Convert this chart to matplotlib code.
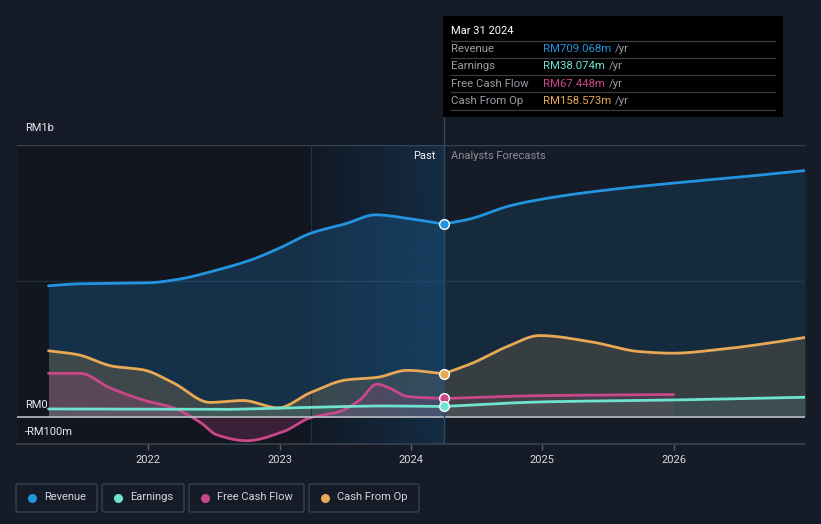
import numpy as np
import matplotlib
matplotlib.use("Agg")
import matplotlib.pyplot as plt
from matplotlib.patches import FancyBboxPatch, Rectangle
from matplotlib.colors import to_rgb

plt.rcParams['font.family'] = ['Roboto', 'DejaVu Sans']

# ---------------- data (RM millions) ----------------
rev_past_x = [2021.24, 2021.46, 2022.0, 2022.24, 2022.5, 2022.78, 2023.0, 2023.24, 2023.5, 2023.73, 2024.0, 2024.25]
rev_past_y = [482, 489, 493, 507, 537, 577, 621, 676, 710, 743, 728, 709.068]
rev_fc_x = [2024.25, 2024.45, 2024.75, 2025.0, 2025.43, 2026.0, 2026.5, 2027.0]
rev_fc_y = [709.068, 728, 776, 801, 831, 860, 882, 906]

earn_past_x = [2021.24, 2022.0, 2022.5, 2023.0, 2023.5, 2023.75, 2024.25]
earn_past_y = [29, 28, 27, 32, 38, 40, 38.074]
earn_fc_x = [2024.25, 2025.0, 2026.0, 2027.0]
earn_fc_y = [38.074, 55, 62, 72]

fcf_past_x = [2021.24, 2021.48, 2021.71, 2021.96, 2022.19, 2022.40, 2022.52, 2022.75, 2023.03, 2023.23,
              2023.46, 2023.61, 2023.74, 2023.84, 2023.97, 2024.25]
fcf_past_y = [160, 160, 106, 62, 33, -22, -66, -88, -54, -4, 20, 62, 120, 105, 75, 67.448]
fcf_fc_x = [2024.25, 2025.0, 2026.0]
fcf_fc_y = [67.448, 78, 82]

cfo_past_x = [2021.24, 2021.46, 2021.73, 2021.96, 2022.19, 2022.47, 2022.72, 2022.99, 2023.23,
              2023.51, 2023.74, 2023.97, 2024.25]
cfo_past_y = [243, 229, 186, 173, 125, 53, 60, 33, 88, 136, 145, 171, 158.573]
cfo_fc_x = [2024.25, 2024.47, 2024.73, 2024.98, 2025.36, 2025.74, 2025.99, 2026.37, 2026.75, 2027.0]
cfo_fc_y = [158.573, 198, 258, 299, 277, 240, 234, 249, 273, 292]

year_ticks = [2022, 2023, 2024, 2025, 2026]
tooltip_date = "Mar 31 2024"
tooltip_rows = [("Revenue", "RM709.068m"), ("Earnings", "RM38.074m"),
                ("Free Cash Flow", "RM67.448m"), ("Cash From Op", "RM158.573m")]
legend_labels = ["Revenue", "Earnings", "Free Cash Flow", "Cash From Op"]

# ---------------- style ----------------
W, H = 821, 524
BG = "#151b27"
C_REV = "#2394df"
C_EARN = "#6fe3cf"
C_FCF = "#c9478a"
C_CFO = "#e8a855"
colors = [C_REV, C_EARN, C_FCF, C_CFO]
NOW = 2024.25
PAST_START = 2023.24


def monotone(x, y, n=400):
    x = np.asarray(x, float)
    y = np.asarray(y, float)
    h = np.diff(x)
    d = np.diff(y) / h
    m = np.zeros_like(y)
    for k in range(1, len(x) - 1):
        if d[k - 1] * d[k] > 0:
            w1 = 2 * h[k] + h[k - 1]
            w2 = h[k] + 2 * h[k - 1]
            m[k] = (w1 + w2) / (w1 / d[k - 1] + w2 / d[k])
    m[0] = d[0]
    m[-1] = d[-1]
    xs = np.linspace(x[0], x[-1], n)
    idx = np.clip(np.searchsorted(x, xs, side='right') - 1, 0, len(h) - 1)
    t = (xs - x[idx]) / h[idx]
    h00 = 2 * t**3 - 3 * t**2 + 1
    h10 = t**3 - 2 * t**2 + t
    h01 = -2 * t**3 + 3 * t**2
    h11 = t**3 - t**2
    ys = h00 * y[idx] + h10 * h[idx] * m[idx] + h01 * y[idx + 1] + h11 * h[idx] * m[idx + 1]
    return xs, ys


fig = plt.figure(figsize=(W / 100, H / 100), dpi=100, facecolor=BG)

ax_l, ax_r, ax_t, ax_b = 17, 805, 145, 444
ax = fig.add_axes([ax_l / W, 1 - ax_b / H, (ax_r - ax_l) / W, (ax_b - ax_t) / H])
ax.set_facecolor(BG)
ax.set_xlim(2021.0, 2027.0)
ax.set_ylim(-100, 1000)

# backgrounds
ax.axvspan(2021.0, NOW, color="#11161f", zorder=0, lw=0)

# grid lines
ax.axhline(1000, color="#3b414c", lw=1, zorder=0.4)
ax.axhline(500, color="#232b38", lw=1, zorder=0.4)

series = [
    (rev_past_x, rev_past_y, rev_fc_x, rev_fc_y, C_REV, 0.22, 0.13),
    (cfo_past_x, cfo_past_y, cfo_fc_x, cfo_fc_y, C_CFO, 0.20, 0.16),
    (fcf_past_x, fcf_past_y, fcf_fc_x, fcf_fc_y, C_FCF, 0.22, 0.10),
    (earn_past_x, earn_past_y, earn_fc_x, earn_fc_y, C_EARN, 0.10, 0.10),
]
z = 1
for px, py, fx, fy, c, ap, af in series:
    xs, ys = monotone(px, py)
    ax.fill_between(xs, ys, 0, color=c, alpha=ap, lw=0, zorder=z)
    ax.plot(xs, ys, color=c, lw=2.0, zorder=z + 5, solid_capstyle='round')
    xs, ys = monotone(fx, fy)
    ax.fill_between(xs, ys, 0, color=c, alpha=af, lw=0, zorder=z)
    ax.plot(xs, ys, color=c, lw=2.0, zorder=z + 5, solid_capstyle='round')
    z += 0.5

# highlighted last-year band (translucent blue gradient over fills)
band_rgb = to_rgb("#1c5486")
grad = np.zeros((2, 512, 4))
grad[..., 0], grad[..., 1], grad[..., 2] = band_rgb
grad[..., 3] = np.linspace(0.06, 0.36, 512)[None, :]
ax.imshow(grad, extent=[PAST_START, NOW, -100, 1000], aspect='auto', zorder=4.5,
          interpolation='bilinear', interpolation_stage='rgba')
ax.axvline(PAST_START, color="#1f3146", lw=0.8, zorder=4.6)
ax.set_xlim(2021.0, 2027.0)
ax.set_ylim(-100, 1000)

ax.axhline(0, color="#b9bdc4", lw=1.2, zorder=9)
ax.axvline(NOW, color="#2c4a66", lw=1, zorder=9.5)

# now markers
for px, py, fx, fy, c, ap, af in series:
    ax.plot([px[-1]], [py[-1]], 'o', ms=7, color=c, mec='white', mew=1.0, zorder=12)

for s in ['top', 'left', 'right']:
    ax.spines[s].set_visible(False)
ax.spines['bottom'].set_color("#3b414c")
ax.spines['bottom'].set_linewidth(1.2)
ax.set_yticks([])
ax.set_xticks(year_ticks)
ax.set_xticklabels([str(y) for y in year_ticks])
ax.tick_params(axis='x', colors="#5a606a", labelcolor="#d6dae0", labelsize=8, length=4, width=1, pad=4)

# ---------------- overlay (pixel coordinates) ----------------
ov = fig.add_axes([0, 0, 1, 1], facecolor='none')
ov.set_xlim(0, W)
ov.set_ylim(H, 0)
ov.axis('off')

# y labels
for txt, yy in [("RM1b", 128), ("RM0", 405), ("-RM100m", 432)]:
    ov.text(25, yy, txt, color="#e6e9ee", fontsize=8, va='center', ha='left')

ov.text(436, 156, "Past", color="#f0f2f5", fontsize=8, va='center', ha='right')
ov.text(451, 156, "Analysts Forecasts", color="#8b9099", fontsize=8, va='center', ha='left')

# vertical line from tooltip down to plot
ov.plot([444, 444], [117, 145], color="#2c4a66", lw=1)

# tooltip
ov.add_patch(Rectangle((443, 16), 340, 101, facecolor="#000000", edgecolor='none'))
ov.text(451, 31, tooltip_date, color="#ffffff", fontsize=8, va='center', ha='left')
row_y = [49, 66, 84, 101]
for yy in [41, 58, 75, 92, 110]:
    ov.plot([451, 775], [yy, yy], color="#3a3d42", lw=0.9)
for (lab, val), yy, c in zip(tooltip_rows, row_y, colors):
    ov.text(451, yy, lab, color="#9a9ea6", fontsize=8.2, va='center', ha='left')
    t = ov.text(543, yy, val, color=c, fontsize=8.2, va='center', ha='left')
    fig.canvas.draw()
    bb = t.get_window_extent()
    ov.text(bb.x1 + 4, yy, "/yr", color="#9a9ea6", fontsize=8.2, va='center', ha='left')

# legend
boxes = [(16, 97), (102, 184), (189, 304), (309, 419)]
for (x0, x1), lab, c in zip(boxes, legend_labels, colors):
    ov.add_patch(FancyBboxPatch((x0, 484), x1 - x0, 28, boxstyle="round,pad=0,rounding_size=2",
                                facecolor='none', edgecolor="#3b414c", lw=1))
    ov.plot([x0 + 16], [497.5], 'o', ms=6.5, color=c, mec='none')
    ov.text(x0 + 28, 497.5, lab, color="#d3d7dd", fontsize=8, va='center', ha='left')

fig.savefig("out.png", dpi=100, facecolor=BG)
